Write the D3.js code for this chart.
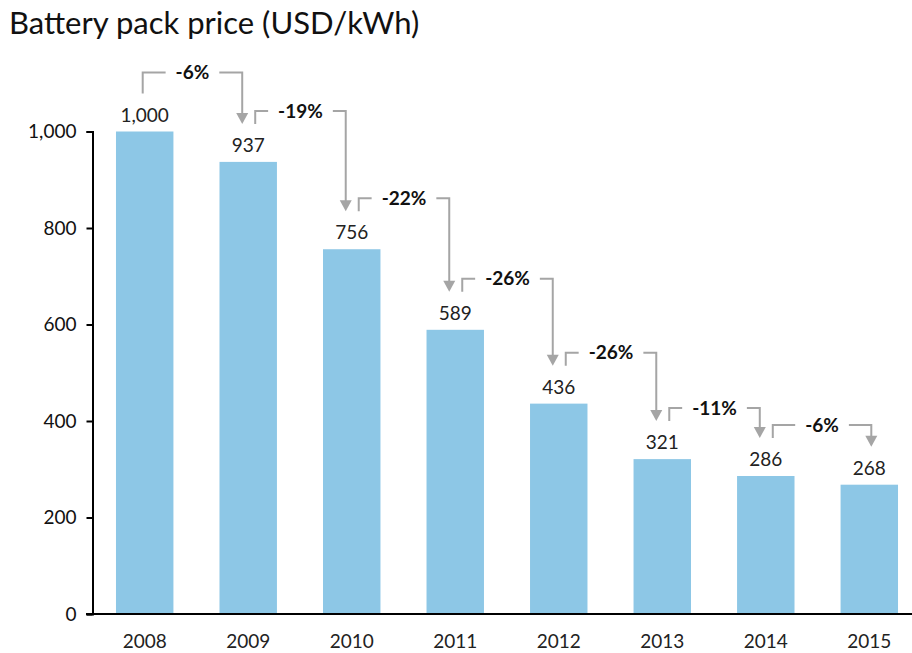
<!DOCTYPE html>
<html>
<head>
<meta charset="utf-8">
<script src="https://cdn.jsdelivr.net/npm/d3@7"></script>
<style>
  html, body { margin: 0; padding: 0; background: #fff; }
  svg { display: block; font-family: Lato, "Open Sans", sans-serif; }
</style>
</head>
<body>
<svg id="chart" width="912" height="653"></svg>
<script>
const years = ["2008", "2009", "2010", "2011", "2012", "2013", "2014", "2015"];
const prices = [1000, 937, 756, 589, 436, 321, 286, 268];
const changeLabels = ["-6%", "-19%", "-22%", "-26%", "-26%", "-11%", "-6%"];
const yTicks = [0, 200, 400, 600, 800, 1000];
const title = "Battery pack price (USD/kWh)";

const svg = d3.select("#chart");
const W = 912, H = 653;

const x = d3.scaleBand().domain(years).range([93, 921]).paddingInner(0.445).paddingOuter(0.222);
const y = d3.scaleLinear().domain([0, 1000]).range([614, 131.5]);

const barColor = "#8DC7E6";
const arrowColor = "#A5A5A5";
const textColor = "#222";

// title
svg.append("text").attr("x", 9).attr("y", 34)
  .attr("font-size", 31).attr("fill", "#111").text(title);

// bars
svg.append("g").selectAll("rect").data(years).join("rect")
  .attr("x", d => x(d)).attr("width", x.bandwidth())
  .attr("y", (d, i) => y(prices[i]))
  .attr("height", (d, i) => y(0) - y(prices[i]))
  .attr("fill", barColor);

// value labels
svg.append("g").selectAll("text").data(years).join("text")
  .attr("x", d => x(d) + x.bandwidth() / 2)
  .attr("y", (d, i) => y(prices[i]) - 10)
  .attr("text-anchor", "middle").attr("font-size", 19).attr("fill", textColor)
  .text((d, i) => d3.format(",")(prices[i]));

// y axis
const yAxis = svg.append("g").attr("transform", "translate(92.5,0)")
  .call(d3.axisLeft(y).tickValues(yTicks).tickFormat(d3.format(",")).tickSize(6).tickPadding(10));
yAxis.selectAll("path, line").attr("stroke", "#000").attr("stroke-width", 2);
yAxis.selectAll("text").attr("font-size", 19).attr("fill", "#111").attr("font-family", "Lato, sans-serif");

// x axis line
svg.append("line").attr("x1", 86).attr("x2", W).attr("y1", y(0)).attr("y2", y(0))
  .attr("stroke", "#000").attr("stroke-width", 2);

// x labels
svg.append("g").selectAll("text").data(years).join("text")
  .attr("x", d => x(d) + x.bandwidth() / 2).attr("y", 648)
  .attr("text-anchor", "middle").attr("font-size", 19).attr("fill", textColor)
  .text(d => d);

// change brackets
const cx = i => x(years[i]) + x.bandwidth() / 2;
const gArr = svg.append("g");
changeLabels.forEach((lab, i) => {
  const sx = cx(i) + (i === 0 ? -2 : 7);
  const ex = cx(i + 1) + (i + 1 === years.length - 1 ? 2 : -6);
  const sy = y(prices[i]) - 38;
  const ty = y(prices[i + 1]) - 38;
  const top = sy - (i === 0 ? 21 : 13);
  gArr.append("path")
    .attr("d", `M${sx},${sy}V${top}H${ex}V${ty - 10}`)
    .attr("fill", "none").attr("stroke", arrowColor).attr("stroke-width", 2);
  gArr.append("path")
    .attr("d", `M${ex - 6},${ty - 11}L${ex + 6},${ty - 11}L${ex},${ty}Z`)
    .attr("fill", arrowColor);
  const mx = (sx + ex) / 2;
  const t = gArr.append("text").attr("x", mx).attr("y", top)
    .attr("dy", "0.35em").attr("text-anchor", "middle")
    .attr("font-size", 19).attr("font-weight", "bold").attr("fill", "#111")
    .text(lab);
  const bb = t.node().getBBox();
  gArr.insert("rect", "text:last-child")
    .attr("x", bb.x - 10).attr("y", bb.y).attr("width", bb.width + 20).attr("height", bb.height)
    .attr("fill", "#fff");
});
</script>
</body>
</html>
